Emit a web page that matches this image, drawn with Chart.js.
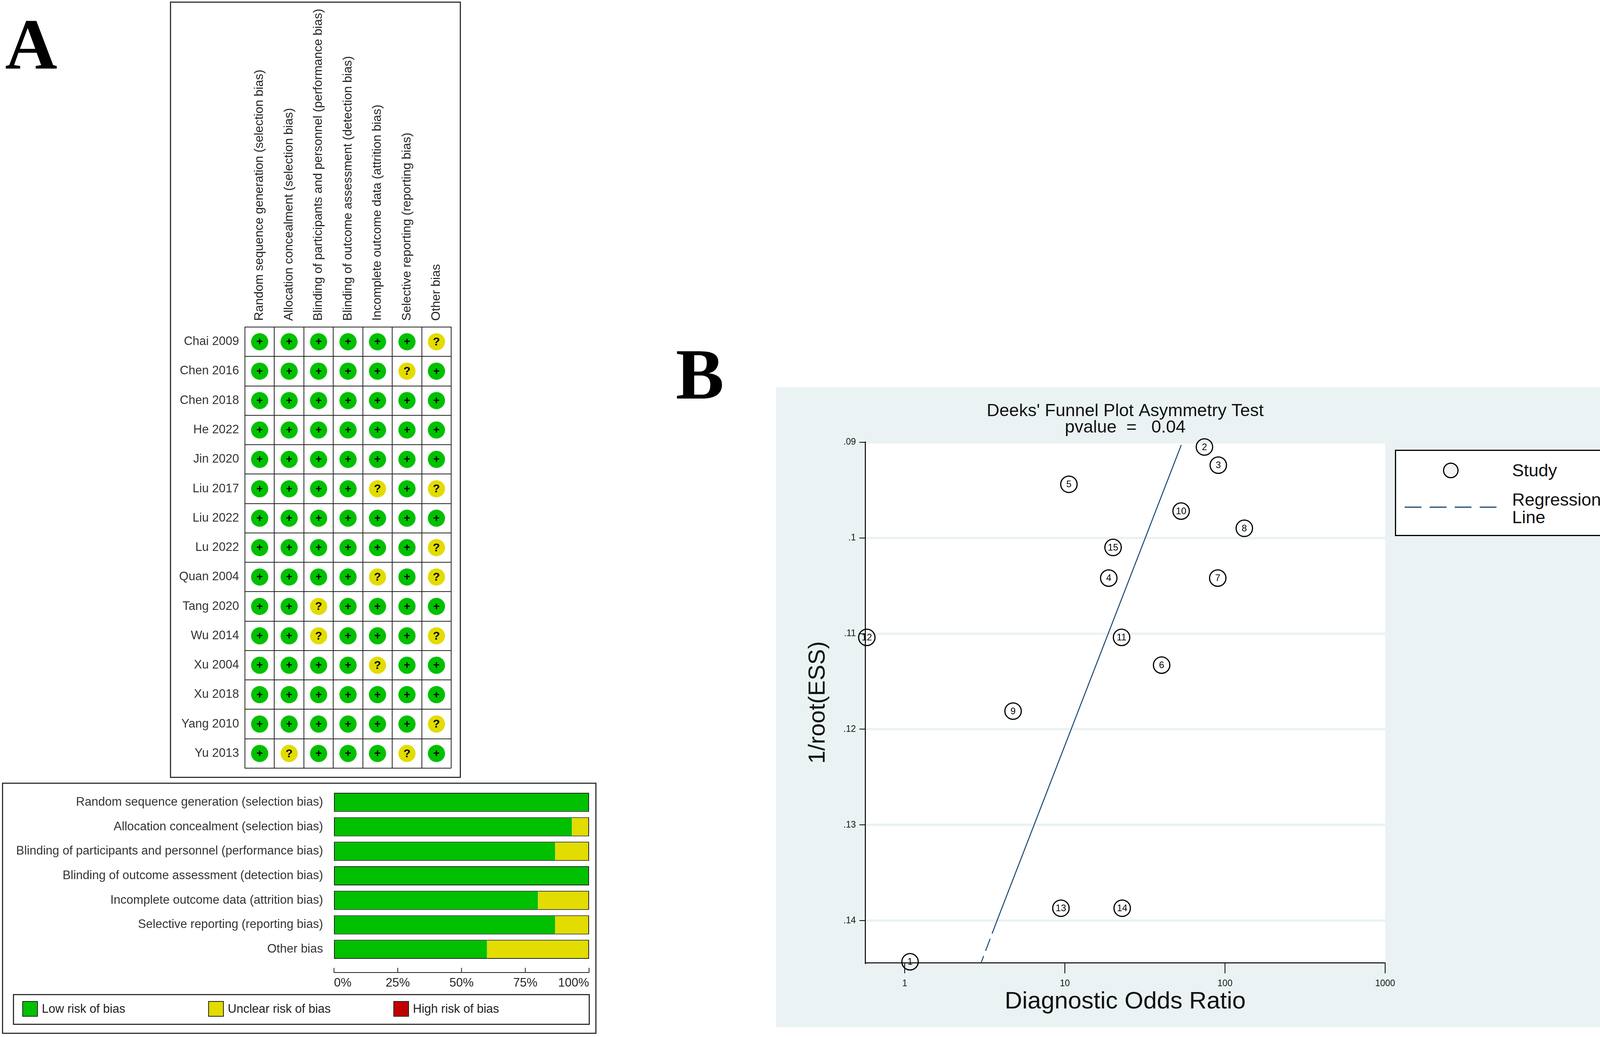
<!DOCTYPE html>
<html>
<head>
<meta charset="utf-8">
<script src="https://cdn.jsdelivr.net/npm/chart.js@4.4.1/dist/chart.umd.min.js"></script>
<style>
  body { margin: 0; background: #fff; width: 4213px; height: 2654px; position: relative; overflow: hidden;
         font-family: "Liberation Sans", Arial, sans-serif; }
  .letter { position: absolute; font-family: "Liberation Serif", "Times New Roman", serif; font-weight: bold;
            font-size: 185px; line-height: 185px; color: #000; }
  .box { position: absolute; box-sizing: border-box; border: 3px solid #333; background: #fff; }
  canvas { position: absolute; left: 0; top: 0; }
  .item { position: absolute; white-space: nowrap; }
</style>
</head>
<body>
<div class="letter" style="left:13px;top:20px;">A</div>
<div class="letter" style="left:1730px;top:865px;">B</div>

<div class="box" style="left:435px;top:4px;width:745px;height:1987px;">
  <canvas id="gridChart" width="739" height="1981"></canvas>
</div>

<div class="box" style="left:5px;top:2003px;width:1522px;height:643px;">
  <canvas id="barChart" width="1516" height="637"></canvas>
  <div id="barLegend" class="box" style="left:25px;top:538px;width:1477px;height:79px;"></div>
</div>

<div style="position:absolute;left:1987px;top:991px;width:2222px;height:1638px;background:#eaf2f3;">
  <canvas id="funnelChart" width="2222" height="1638"></canvas>
  <div id="funnelLegend" class="box" style="left:1584px;top:160px;width:573px;height:221px;border-color:#000;"></div>
</div>

<script>
// ---- data: risk of bias ----
const domains = [
  "Random sequence generation (selection bias)",
  "Allocation concealment (selection bias)",
  "Blinding of participants and personnel (performance bias)",
  "Blinding of outcome assessment (detection bias)",
  "Incomplete outcome data (attrition bias)",
  "Selective reporting (reporting bias)",
  "Other bias"
];
const studies = ["Chai 2009", "Chen 2016", "Chen 2018", "He 2022", "Jin 2020", "Liu 2017", "Liu 2022",
  "Lu 2022", "Quan 2004", "Tang 2020", "Wu 2014", "Xu 2004", "Xu 2018", "Yang 2010", "Yu 2013"];
// one row per study, one entry per domain: "+" low, "?" unclear, "-" high
const judgements = [
  ["+", "+", "+", "+", "+", "+", "?"],
  ["+", "+", "+", "+", "+", "?", "+"],
  ["+", "+", "+", "+", "+", "+", "+"],
  ["+", "+", "+", "+", "+", "+", "+"],
  ["+", "+", "+", "+", "+", "+", "+"],
  ["+", "+", "+", "+", "?", "+", "?"],
  ["+", "+", "+", "+", "+", "+", "+"],
  ["+", "+", "+", "+", "+", "+", "?"],
  ["+", "+", "+", "+", "?", "+", "?"],
  ["+", "+", "?", "+", "+", "+", "+"],
  ["+", "+", "?", "+", "+", "+", "?"],
  ["+", "+", "+", "+", "?", "+", "+"],
  ["+", "+", "+", "+", "+", "+", "+"],
  ["+", "+", "+", "+", "+", "+", "?"],
  ["+", "?", "+", "+", "+", "?", "+"]
];
// summary percentages per domain
const lowPct = [100, 93.3, 86.7, 100, 80, 86.7, 60];
const unclearPct = [0, 6.7, 13.3, 0, 20, 13.3, 40];
const highPct = [0, 0, 0, 0, 0, 0, 0];
const pctTicks = [0, 25, 50, 75, 100];

// ---- data: Deeks' funnel plot ----
const studyIds = ["1", "2", "3", "4", "5", "6", "7", "8", "9", "10", "11", "12", "13", "14", "15"];
const dor = [1.08, 74.4, 90.8, 18.8, 10.6, 40.2, 90.1, 132, 4.75, 53.2, 22.6, 0.58, 9.45, 22.8, 20.0];
const invRootEss = [0.1443, 0.0905, 0.0924, 0.1042, 0.0944, 0.1133, 0.1042, 0.0990, 0.1181, 0.0972,
  0.1104, 0.1104, 0.1387, 0.1387, 0.1010];
const regDor = [53.3, 3.75, 3.0];
const regY = [0.0903, 0.1401, 0.1444];
const xTickVals = [1, 10, 100, 1000];
const xTickLabels = ["1", "10", "100", "1000"];
const yTickVals = [0.09, 0.10, 0.11, 0.12, 0.13, 0.14];
const yTickLabels = [".09", ".1", ".11", ".12", ".13", ".14"];

const FONT = '"Liberation Sans", Arial, sans-serif';
Chart.defaults.font.family = FONT;
Chart.defaults.color = "#222";

const GREEN = "#00c000";
const YELLOW = "#e2dc00";
const RED = "#c00000";
const judgementColors = { "+": GREEN, "?": YELLOW, "-": RED };

// ---------- risk of bias grid ----------
const gridPoints = [];
const gridColors = [];
studies.forEach((s, r) => {
  judgements[r].forEach((j, c) => {
    gridPoints.push({ x: domains[c], y: s, j: j });
    gridColors.push(judgementColors[j]);
  });
});

const symbolPlugin = {
  id: "riskSymbols",
  afterDatasetsDraw(chart) {
    const ctx = chart.ctx;
    const meta = chart.getDatasetMeta(0);
    ctx.save();
    ctx.fillStyle = "#000";
    ctx.textAlign = "center";
    ctx.textBaseline = "middle";
    meta.data.forEach((pt, i) => {
      const j = gridPoints[i].j;
      ctx.font = (j === "+" ? "bold 28px " : "bold 30px ") + FONT;
      ctx.fillText(j, pt.x, pt.y + 1);
    });
    ctx.restore();
  }
};

// column headings, written upward from just above each column
const headerPlugin = {
  id: "domainHeaders",
  afterDraw(chart) {
    const ctx = chart.ctx;
    const x = chart.scales.x;
    const y0 = chart.chartArea.top - 16;
    ctx.save();
    ctx.fillStyle = "#222";
    ctx.font = "31.5px " + FONT;
    ctx.textAlign = "left";
    ctx.textBaseline = "middle";
    domains.forEach((d, i) => {
      ctx.save();
      ctx.translate(x.getPixelForTick(i), y0);
      ctx.rotate(-Math.PI / 2);
      ctx.fillText(d, 0, 0);
      ctx.restore();
    });
    ctx.restore();
  }
};

new Chart(document.getElementById("gridChart"), {
  type: "scatter",
  data: {
    datasets: [{
      data: gridPoints,
      backgroundColor: gridColors,
      borderWidth: 0,
      pointRadius: 22,
      pointHoverRadius: 22
    }]
  },
  options: {
    responsive: false,
    animation: false,
    devicePixelRatio: 1,
    events: [],
    layout: { padding: { left: 0, top: 0, right: 19, bottom: 21 } },
    plugins: { legend: { display: false }, tooltip: { enabled: false } },
    scales: {
      x: {
        type: "category",
        labels: domains,
        position: "top",
        offset: true,
        grid: { offset: true, color: "#222", lineWidth: 2, drawTicks: false },
        border: { color: "#222", width: 2 },
        ticks: { display: false },
        afterFit: (s) => { s.height = 830; s.paddingLeft = 0; s.paddingRight = 0; }
      },
      y: {
        type: "category",
        labels: studies,
        offset: true,
        grid: { offset: true, color: "#222", lineWidth: 2, drawTicks: false },
        border: { color: "#222", width: 2 },
        ticks: { autoSkip: false, padding: 15, color: "#333", font: { size: 31 } },
        afterFit: (s) => { s.width = 189; s.paddingTop = 0; s.paddingBottom = 0; }
      }
    }
  },
  plugins: [symbolPlugin, headerPlugin]
});

// ---------- risk of bias summary bars ----------
const pctAxisPlugin = {
  id: "pctAxis",
  afterDraw(chart) {
    const ctx = chart.ctx;
    const x = chart.scales.x;
    const y0 = chart.chartArea.bottom + 28;
    ctx.save();
    ctx.strokeStyle = "#222";
    ctx.lineWidth = 2;
    ctx.beginPath();
    ctx.moveTo(x.getPixelForValue(0), y0);
    ctx.lineTo(x.getPixelForValue(100), y0);
    pctTicks.forEach((t) => {
      const px = x.getPixelForValue(t);
      ctx.moveTo(px, y0);
      ctx.lineTo(px, y0 - 12);
    });
    ctx.stroke();
    ctx.restore();
  }
};

function edgeWidths(ds) {
  return (c) => {
    const i = c.dataIndex;
    if (ds === 0) {
      if (lowPct[i] === 0) return 0;
      return { top: 2, bottom: 2, left: 2, right: unclearPct[i] + highPct[i] === 0 ? 2 : 0 };
    }
    if (ds === 1) {
      if (unclearPct[i] === 0) return 0;
      return { top: 2, bottom: 2, left: lowPct[i] === 0 ? 2 : 0, right: highPct[i] === 0 ? 2 : 0 };
    }
    if (highPct[i] === 0) return 0;
    return { top: 2, bottom: 2, left: lowPct[i] + unclearPct[i] === 0 ? 2 : 0, right: 2 };
  };
}

const barChart = new Chart(document.getElementById("barChart"), {
  type: "bar",
  data: {
    labels: domains,
    datasets: [
      { label: "Low risk of bias", data: lowPct, backgroundColor: GREEN },
      { label: "Unclear risk of bias", data: unclearPct, backgroundColor: YELLOW },
      { label: "High risk of bias", data: highPct, backgroundColor: RED }
    ].map((d, k) => Object.assign(d, {
      borderColor: "#222",
      borderSkipped: false,
      borderWidth: edgeWidths(k),
      barPercentage: 0.78,
      categoryPercentage: 1
    }))
  },
  options: {
    indexAxis: "y",
    responsive: false,
    animation: false,
    devicePixelRatio: 1,
    events: [],
    layout: { padding: { left: 0, top: 16, right: 16, bottom: 0 } },
    plugins: { legend: { display: false }, tooltip: { enabled: false } },
    scales: {
      x: {
        stacked: true,
        min: 0,
        max: 100,
        afterBuildTicks: (s) => { s.ticks = pctTicks.map((v) => ({ value: v })); },
        grid: { display: false, drawTicks: false },
        border: { display: false },
        ticks: { align: "inner", padding: 37, color: "#222", font: { size: 31 },
                 callback: (v) => v + "%" },
        afterFit: (s) => { s.height = 182; s.paddingLeft = 0; s.paddingRight = 0; }
      },
      y: {
        stacked: true,
        grid: { display: false, drawTicks: false },
        border: { display: false },
        ticks: { autoSkip: false, padding: 28, color: "#333", font: { size: 31 } },
        afterFit: (s) => { s.width = 847; s.paddingTop = 0; s.paddingBottom = 0; }
      }
    }
  },
  plugins: [pctAxisPlugin]
});

// legend for the summary bars, built from the datasets
const barLegendX = [21, 497, 971];
const barLegend = document.getElementById("barLegend");
barChart.data.datasets.forEach((d, k) => {
  const sw = document.createElement("div");
  sw.className = "item";
  sw.style.cssText = "left:" + barLegendX[k] + "px;top:15px;width:40px;height:40px;box-sizing:border-box;" +
    "border:2px solid #222;background:" + d.backgroundColor + ";";
  barLegend.appendChild(sw);
  const tx = document.createElement("div");
  tx.className = "item";
  tx.style.cssText = "left:" + (barLegendX[k] + 50) + "px;top:15px;height:40px;line-height:40px;" +
    "font-size:31px;color:#222;";
  tx.textContent = d.label;
  barLegend.appendChild(tx);
});

// ---------- Deeks' funnel plot ----------
const plotAreaPlugin = {
  id: "plotArea",
  beforeDraw(chart) {
    const a = chart.chartArea;
    chart.ctx.save();
    chart.ctx.fillStyle = "#fff";
    chart.ctx.fillRect(a.left, a.top, a.right - a.left, a.bottom - a.top);
    chart.ctx.restore();
  },
  afterDatasetsDraw(chart) {
    const ctx = chart.ctx;
    const meta = chart.getDatasetMeta(0);
    ctx.save();
    ctx.fillStyle = "#000";
    ctx.textAlign = "center";
    ctx.textBaseline = "middle";
    ctx.font = "24px " + FONT;
    meta.data.forEach((pt, i) => ctx.fillText(studyIds[i], pt.x, pt.y + 1));
    ctx.restore();
  }
};

const funnelChart = new Chart(document.getElementById("funnelChart"), {
  type: "scatter",
  data: {
    datasets: [
      {
        label: "Study",
        data: dor.map((v, i) => ({ x: v, y: invRootEss[i] })),
        pointRadius: 21,
        pointHoverRadius: 21,
        borderWidth: 3,
        borderColor: "#000",
        backgroundColor: "rgba(0,0,0,0)",
        clip: false
      },
      {
        label: "Regression Line",
        type: "line",
        data: regDor.map((v, i) => ({ x: v, y: regY[i] })),
        borderColor: "#1a476f",
        borderWidth: 2.5,
        pointRadius: 0,
        fill: false,
        tension: 0,
        segment: { borderDash: (c) => (c.p0DataIndex === 1 ? [33, 14] : undefined) }
      }
    ]
  },
  options: {
    responsive: false,
    animation: false,
    devicePixelRatio: 1,
    events: [],
    layout: { padding: { left: 0, top: 0, right: 663, bottom: 0 } },
    plugins: {
      legend: { display: false },
      tooltip: { enabled: false },
      title: {
        display: true,
        fullSize: false,
        text: ["Deeks' Funnel Plot Asymmetry Test", "pvalue  =   0.04"],
        color: "#111",
        font: { size: 45, weight: "normal", lineHeight: 0.93 },
        padding: { top: 41, bottom: 16 }
      }
    },
    scales: {
      x: {
        type: "logarithmic",
        min: 0.567,
        max: 1000,
        afterBuildTicks: (s) => { s.ticks = xTickVals.map((v) => ({ value: v })); },
        grid: { drawOnChartArea: false, color: "#000", lineWidth: 2, tickLength: 27 },
        border: { color: "#000", width: 2.5 },
        ticks: { autoSkip: false, maxRotation: 0, padding: 13, color: "#111", font: { size: 23 },
                 callback: (v) => xTickLabels[xTickVals.indexOf(v)] },
        title: { display: true, text: "Diagnostic Odds Ratio", color: "#111", font: { size: 62 },
                 padding: { top: 0, bottom: 28 } },
        afterFit: (s) => { s.height = 165; s.paddingLeft = 0; s.paddingRight = 0; }
      },
      y: {
        type: "linear",
        reverse: true,
        min: 0.09,
        max: 0.1444,
        afterBuildTicks: (s) => { s.ticks = yTickVals.map((v) => ({ value: v })); },
        grid: { color: "#eaf2f3", lineWidth: 6, tickColor: "#000", tickWidth: 2, tickLength: 15 },
        border: { color: "#000", width: 2.5 },
        ticks: { padding: 9, color: "#111", font: { size: 23 },
                 callback: (v) => yTickLabels[yTickVals.findIndex((t) => Math.abs(t - v) < 1e-9)] },
        title: { display: true, text: "1/root(ESS)", color: "#111", font: { size: 60 },
                 padding: { top: 71, bottom: 0 } },
        afterFit: (s) => { s.width = 228; s.paddingTop = 0; s.paddingBottom = 0; }
      }
    }
  },
  plugins: [plotAreaPlugin]
});

// legend for the funnel plot, built from the datasets
const fl = document.getElementById("funnelLegend");
const studyDs = funnelChart.data.datasets[0];
const regDs = funnelChart.data.datasets[1];
fl.innerHTML =
  '<div class="item" style="left:120px;top:30px;width:40px;height:40px;box-sizing:border-box;border-radius:50%;' +
  'border:3px solid ' + studyDs.borderColor + ';background:#f4f4f4;"></div>' +
  '<div class="item" style="left:297px;top:22px;font-size:45px;line-height:56px;color:#111;">' + studyDs.label + '</div>' +
  '<svg class="item" style="left:22px;top:139px;" width="244" height="10"><line x1="0" y1="5" x2="244" y2="5" ' +
  'stroke="' + regDs.borderColor + '" stroke-width="3" stroke-dasharray="43 21"/></svg>' +
  '<div class="item" style="left:297px;top:102px;width:240px;white-space:normal;font-size:45px;line-height:45px;color:#111;">' +
  regDs.label + '</div>';
</script>
</body>
</html>
